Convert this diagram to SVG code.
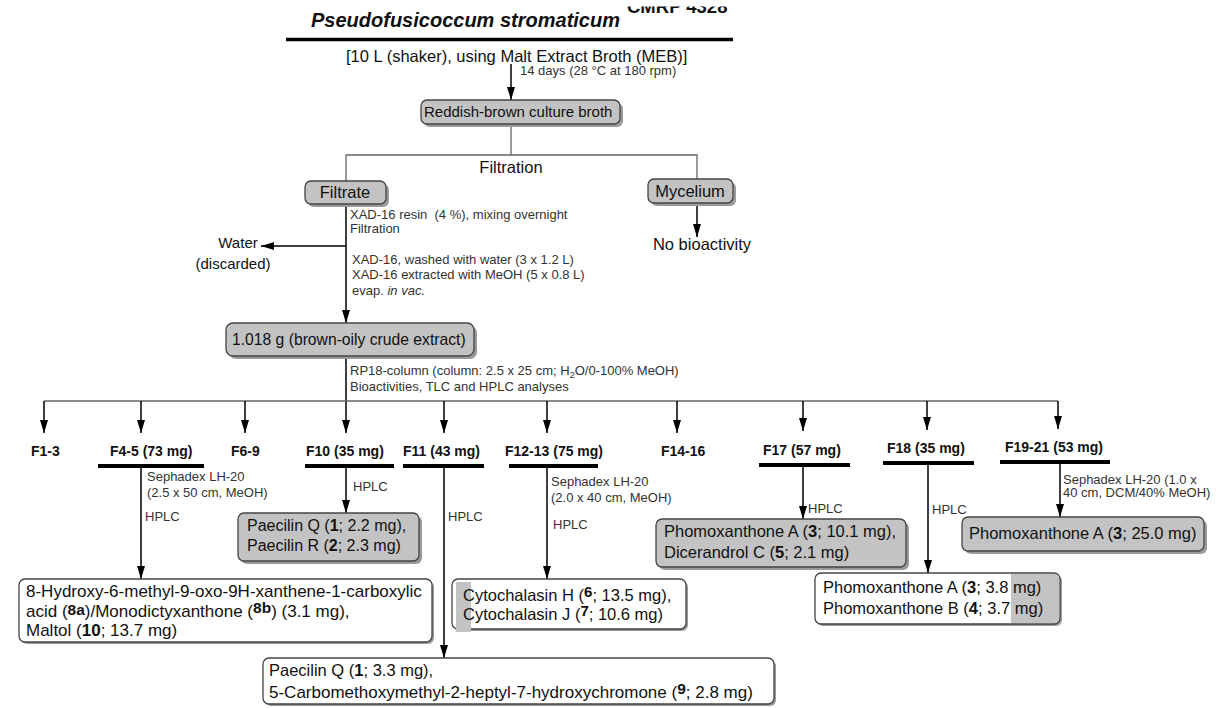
<svg xmlns="http://www.w3.org/2000/svg" width="1218" height="708" viewBox="0 0 1218 708">
<style>
text{font-family:"Liberation Sans",Arial,sans-serif;fill:#111}
.m{font-size:16.5px}
.s{font-size:13px;fill:#333}
.f{font-size:14px;font-weight:bold}
.b{font-weight:bold}
.gbox{fill:#c3c3c3;stroke:#444;stroke-width:1.3}
.wbox{fill:#fff;stroke:#444;stroke-width:1.3}
.sh{fill:#9a9a9a}
.ln{stroke:#000;stroke-width:1.5;fill:none}
.thin{stroke:#666;stroke-width:1.3;fill:none}
.bar{stroke:#000;stroke-width:4}
</style>
<defs>
<marker id="ah" markerUnits="userSpaceOnUse" viewBox="0 0 13 8" markerWidth="13" markerHeight="8" refX="13" refY="4" orient="auto"><path d="M0,0 L13,4 L0,8 Z" fill="#000"/></marker>
</defs>

<g id="title">
<text x="627" y="13" style="font-size:18.5px;font-weight:bold">CMRP 4328</text>
<rect x="622" y="0" width="130" height="6.5" fill="#fff"/>
<text x="311" y="27" style="font-size:20px;font-weight:bold;font-style:italic">Pseudofusicoccum stromaticum</text>
<line x1="286" y1="39.5" x2="733" y2="39.5" stroke="#000" stroke-width="3.5"/>
<text x="346" y="62" class="m">[10 L (shaker), using Malt Extract Broth (MEB)]</text>
</g>

<g id="connectors">
<line class="ln" x1="511" y1="64" x2="511" y2="100" marker-end="url(#ah)"/>
<polyline class="thin" points="511,124 511,155"/>
<polyline class="thin" points="346,181 346,155 697,155 697,179"/>
<line class="ln" x1="697" y1="203" x2="697" y2="237" marker-end="url(#ah)"/>
<line class="ln" x1="346" y1="204" x2="346" y2="323" marker-end="url(#ah)"/>
<line class="ln" x1="346" y1="246" x2="261" y2="246" marker-end="url(#ah)"/>
<line class="ln" x1="346" y1="356" x2="346" y2="433" marker-end="url(#ah)"/>
<line class="thin" x1="44" y1="401" x2="1058" y2="401"/>
<line class="ln" x1="44" y1="401" x2="44" y2="433" marker-end="url(#ah)"/>
<line class="ln" x1="141" y1="401" x2="141" y2="433" marker-end="url(#ah)"/>
<line class="ln" x1="245" y1="401" x2="245" y2="433" marker-end="url(#ah)"/>
<line class="ln" x1="444" y1="401" x2="444" y2="433" marker-end="url(#ah)"/>
<line class="ln" x1="547" y1="401" x2="547" y2="433" marker-end="url(#ah)"/>
<line class="ln" x1="677" y1="401" x2="677" y2="433" marker-end="url(#ah)"/>
<line class="ln" x1="803" y1="401" x2="803" y2="431" marker-end="url(#ah)"/>
<line class="ln" x1="927" y1="401" x2="927" y2="430" marker-end="url(#ah)"/>
<line class="ln" x1="1058" y1="401" x2="1058" y2="429" marker-end="url(#ah)"/>
<line class="bar" x1="98" y1="466" x2="204" y2="466"/>
<line class="bar" x1="305" y1="466" x2="394" y2="466"/>
<line class="bar" x1="403" y1="466" x2="484" y2="466"/>
<line class="bar" x1="509" y1="466" x2="598" y2="466"/>
<line class="bar" x1="759" y1="465" x2="850" y2="465"/>
<line class="bar" x1="883" y1="463" x2="974" y2="463"/>
<line class="bar" x1="1000" y1="462" x2="1110" y2="462"/>
<line class="ln" x1="141" y1="468" x2="141" y2="579" marker-end="url(#ah)"/>
<line class="ln" x1="346" y1="468" x2="346" y2="513" marker-end="url(#ah)"/>
<line class="ln" x1="444" y1="468" x2="444" y2="658" marker-end="url(#ah)"/>
<line class="ln" x1="547" y1="468" x2="547" y2="579" marker-end="url(#ah)"/>
<line class="ln" x1="803" y1="467" x2="803" y2="519" marker-end="url(#ah)"/>
<line class="ln" x1="928" y1="465" x2="928" y2="573" marker-end="url(#ah)"/>
<line class="ln" x1="1060" y1="464" x2="1060" y2="517" marker-end="url(#ah)"/>
</g>

<g id="labels">
<text x="520" y="75" class="s">14 days (28 °C at 180 rpm)</text>
<text x="511" y="173" class="m" text-anchor="middle">Filtration</text>
<text x="350" y="219" class="s">XAD-16 resin &#160;(4 %), mixing overnight</text>
<text x="350" y="233" class="s">Filtration</text>
<text x="238" y="248" style="font-size:15px" text-anchor="middle">Water</text>
<text x="233" y="269" style="font-size:15px" text-anchor="middle">(discarded)</text>
<text x="352" y="264" class="s">XAD-16, washed with water (3 x 1.2 L)</text>
<text x="352" y="279" class="s">XAD-16 extracted with MeOH (5 x 0.8 L)</text>
<text x="352" y="295" class="s">evap. <tspan font-style="italic">in vac.</tspan></text>
<text x="702" y="250" class="m" text-anchor="middle">No bioactivity</text>
<text x="350" y="375" class="s">RP18-column (column: 2.5 x 25 cm; H<tspan font-size="9" dy="3">2</tspan><tspan dy="-3">O/0-100% MeOH)</tspan></text>
<text x="350" y="391" class="s">Bioactivities, TLC and HPLC analyses</text>
<text x="147" y="481" class="s">Sephadex LH-20</text>
<text x="147" y="497" class="s">(2.5 x 50 cm, MeOH)</text>
<text x="145" y="521" class="s">HPLC</text>
<text x="353" y="491" class="s">HPLC</text>
<text x="448" y="521" class="s">HPLC</text>
<text x="551" y="486" class="s">Sephadex LH-20</text>
<text x="551" y="502" class="s">(2.0 x 40 cm, MeOH)</text>
<text x="553" y="529" class="s">HPLC</text>
<text x="808" y="513" class="s">HPLC</text>
<text x="932" y="514" class="s">HPLC</text>
<text x="1063" y="484" class="s">Sephadex LH-20 (1.0 x</text>
<text x="1063" y="497" class="s">40 cm, DCM/40% MeOH)</text>
</g>

<g id="fractions">
<text x="31" y="456" class="f">F1-3</text>
<text x="110" y="456" class="f">F4-5 (73 mg)</text>
<text x="231" y="456" class="f">F6-9</text>
<text x="306" y="456" class="f">F10 (35 mg)</text>
<text x="403" y="456" class="f">F11 (43 mg)</text>
<text x="505" y="456" class="f">F12-13 (75 mg)</text>
<text x="661" y="456" class="f">F14-16</text>
<text x="763" y="455" class="f">F17 (57 mg)</text>
<text x="887" y="453" class="f">F18 (35 mg)</text>
<text x="1005" y="452" class="f">F19-21 (53 mg)</text>
</g>

<g id="n-broth">
<rect x="424" y="103" width="199" height="24" rx="6" class="sh"/>
<rect x="421" y="100" width="199" height="24" rx="6" class="gbox"/>
<text x="424" y="117" style="font-size:15px">Reddish-brown culture broth</text>
</g>
<g id="n-filtrate">
<rect x="308" y="184" width="81" height="23" rx="6" class="sh"/>
<rect x="305" y="181" width="81" height="23" rx="6" class="gbox"/>
<text x="345" y="198" class="m" text-anchor="middle">Filtrate</text>
</g>
<g id="n-mycelium">
<rect x="651" y="182" width="85" height="24" rx="6" class="sh"/>
<rect x="648" y="179" width="85" height="24" rx="6" class="gbox"/>
<text x="690" y="197" class="m" text-anchor="middle">Mycelium</text>
</g>
<g id="n-crude">
<rect x="229" y="326" width="248" height="33" rx="7" class="sh"/>
<rect x="226" y="323" width="248" height="33" rx="7" class="gbox"/>
<text x="232" y="345" style="font-size:15.7px">1.018 g (brown-oily crude extract)</text>
</g>
<g id="n-f45">
<rect x="21" y="581" width="413" height="63" rx="6" class="sh"/>
<rect x="19" y="579" width="413" height="63" rx="6" class="wbox"/>
<text x="26" y="597" style="font-size:17px">8-Hydroxy-6-methyl-9-oxo-9H-xanthene-1-carboxylic</text>
<text x="26" y="617" style="font-size:17px">acid (<tspan class="b" font-size="15.5" dy="-2">8a</tspan><tspan dy="2">)/Monodictyxanthone (</tspan><tspan class="b" font-size="15.5" dy="-4">8b</tspan><tspan dy="4">) (3.1 mg),</tspan></text>
<text x="26" y="636" style="font-size:17px">Maltol (<tspan class="b">10</tspan>; 13.7 mg)</text>
</g>
<g id="n-f10">
<rect x="241" y="516" width="181" height="48" rx="6" class="sh"/>
<rect x="238" y="513" width="181" height="48" rx="6" class="gbox"/>
<text x="247" y="531" style="font-size:16px">Paecilin Q (<tspan class="b">1</tspan>; 2.2 mg),</text>
<text x="247" y="551" style="font-size:16px">Paecilin R (<tspan class="b">2</tspan>; 2.3 mg)</text>
</g>
<g id="n-f11">
<rect x="265" y="660" width="511" height="46" rx="6" class="sh"/>
<rect x="263" y="658" width="511" height="46" rx="6" class="wbox"/>
<text x="269" y="676" class="m">Paecilin Q (<tspan class="b">1</tspan>; 3.3 mg),</text>
<text x="269" y="698" style="font-size:17px">5-Carbomethoxymethyl-2-heptyl-7-hydroxychromone (<tspan class="b" font-size="15.5" dy="-4">9</tspan><tspan dy="4">; 2.8 mg)</tspan></text>
</g>
<g id="n-f1213">
<rect x="454" y="581" width="234" height="50" rx="6" class="sh"/>
<rect x="452" y="579" width="234" height="50" rx="6" class="wbox"/>
<rect x="456" y="582" width="15" height="50" fill="#c3c3c3"/>
<text x="463" y="601" class="m">Cytochalasin H (<tspan class="b" font-size="15" dy="-4">6</tspan><tspan dy="4">; 13.5 mg),</tspan></text>
<text x="463" y="620" class="m">Cytochalasin J (<tspan class="b" font-size="15" dy="-4">7</tspan><tspan dy="4">; 10.6 mg)</tspan></text>
</g>
<g id="n-f17">
<rect x="659" y="522" width="250" height="48" rx="6" class="sh"/>
<rect x="656" y="519" width="250" height="48" rx="6" class="gbox"/>
<text x="664" y="537" class="m">Phomoxanthone A (<tspan class="b">3</tspan>; 10.1 mg),</text>
<text x="664" y="558" class="m">Dicerandrol C (<tspan class="b">5</tspan>; 2.1 mg)</text>
</g>
<g id="n-f18">
<rect x="817" y="575" width="245" height="51" rx="6" class="sh"/>
<rect x="815" y="573" width="245" height="51" rx="6" class="wbox"/>
<path d="M1011,574 H1054 Q1059,574 1059,579 V618 Q1059,623 1054,623 H1011 Z" fill="#c3c3c3"/>
<text x="823" y="593" class="m">Phomoxanthone A (<tspan class="b">3</tspan>; 3.8 mg)</text>
<text x="823" y="614" class="m">Phomoxanthone B (<tspan class="b">4</tspan>; 3.7 mg)</text>
</g>
<g id="n-f1921">
<rect x="965" y="520" width="242" height="34" rx="6" class="sh"/>
<rect x="962" y="517" width="242" height="34" rx="6" class="gbox"/>
<text x="969" y="539" class="m">Phomoxanthone A (<tspan class="b">3</tspan>; 25.0 mg)</text>
</g>
</svg>
